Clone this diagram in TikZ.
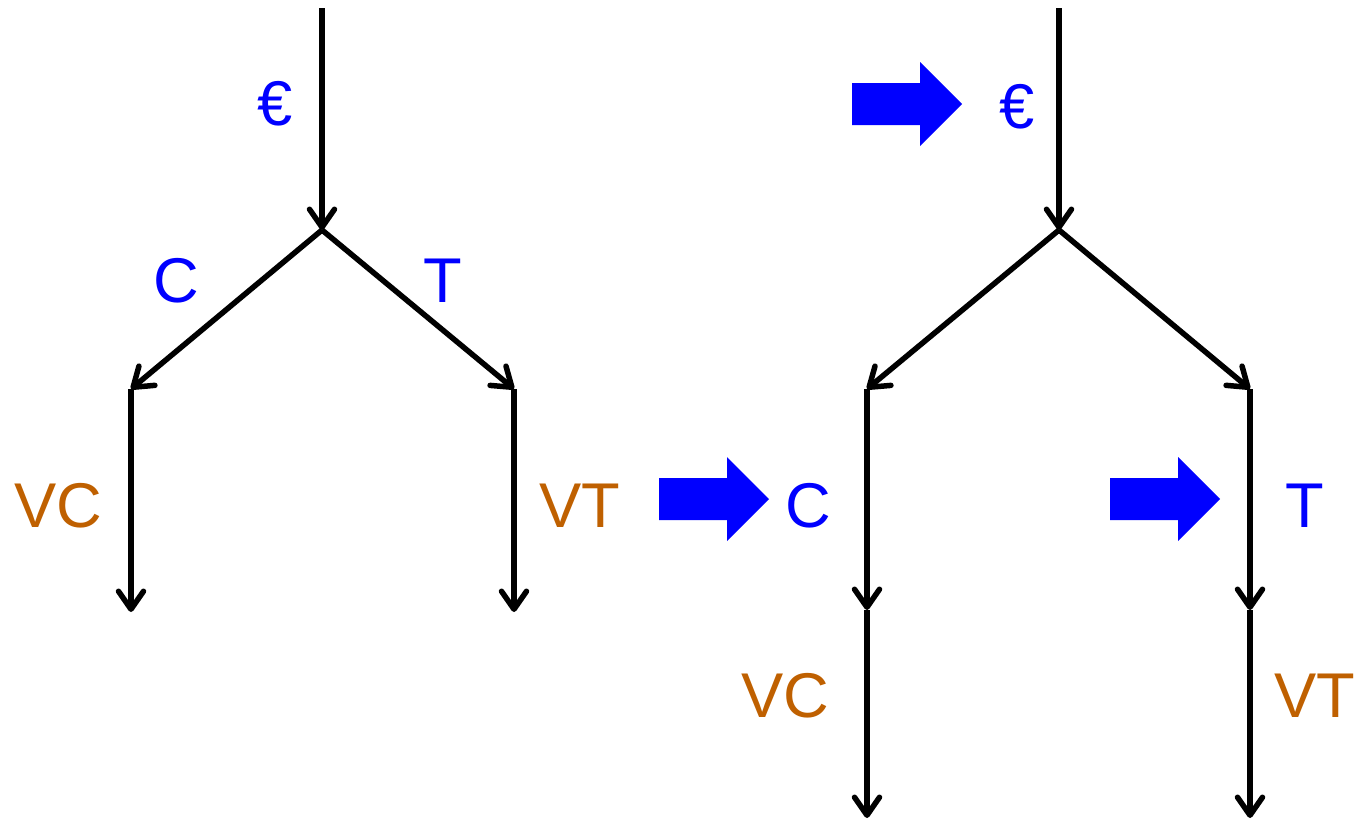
\documentclass[tikz,border=0pt]{standalone}
\usepackage{fontspec}
\setmainfont{Liberation Sans}
\usetikzlibrary{arrows.meta}
\definecolor{labelblue}{RGB}{0,0,255}
\definecolor{labelbrown}{RGB}{191,96,0}

\begin{document}
\begin{tikzpicture}[
  x=0.02cm, y=-0.02cm,
  flow/.style={line width=0.11cm, -{Straight Barb[length=0.36cm, width=0.5cm, round]}},
  tag/.style={font=\fontsize{36}{40}\selectfont, inner sep=0pt},
  choice/.style={tag, text=labelblue},
  value/.style={tag, text=labelbrown},
  bigarrow/.pic={\fill[labelblue] (-55,-21) -- (13,-21) -- (13,-42) -- (55,0) -- (13,42) -- (13,21) -- (-55,21) -- cycle;}
]
\useasboundingbox (0,0) rectangle (1363,822);

% left tree
\coordinate (ltop) at (322,8);
\coordinate (lfork) at (322,230);
\coordinate (lcfork) at (131,389);
\coordinate (lcend) at (131,612);
\coordinate (ltfork) at (514,389);
\coordinate (ltend) at (514,612);
\draw[flow] (ltop) -- (lfork);
\draw[flow] (lfork) -- (lcfork);
\draw[flow] (lfork) -- (ltfork);
\draw[flow] (lcfork) -- (lcend);
\draw[flow] (ltfork) -- (ltend);
\node[choice] (leuro) at (275,104) {€};
\node[choice] (lc) at (176,281) {C};
\node[choice] (lt) at (443,281) {T};
\node[value] (lvc) at (58,506) {VC};
\node[value] (lvt) at (580,506) {VT};

% right tree
\coordinate (rtop) at (1059,8);
\coordinate (rfork) at (1059,230);
\coordinate (rcfork) at (867,389);
\coordinate (rcmid) at (867,610);
\coordinate (rcend) at (867,818);
\coordinate (rtfork) at (1250,389);
\coordinate (rtmid) at (1250,610);
\coordinate (rtend) at (1250,818);
\draw[flow] (rtop) -- (rfork);
\draw[flow] (rfork) -- (rcfork);
\draw[flow] (rfork) -- (rtfork);
\draw[flow] (rcfork) -- (rcmid);
\draw[flow] (rcmid) -- (rcend);
\draw[flow] (rtfork) -- (rtmid);
\draw[flow] (rtmid) -- (rtend);
\node[choice] (reuro) at (1017,107) {€};
\node[choice] (rc) at (808,506) {C};
\node[choice] (rt) at (1305,506) {T};
\node[value] (rvc) at (785,696) {VC};
\node[value] (rvt) at (1315,696) {VT};

% blue pointers
\pic at (907,104) {bigarrow};
\pic at (714,499) {bigarrow};
\pic at (1165,499) {bigarrow};
\end{tikzpicture}
\end{document}
